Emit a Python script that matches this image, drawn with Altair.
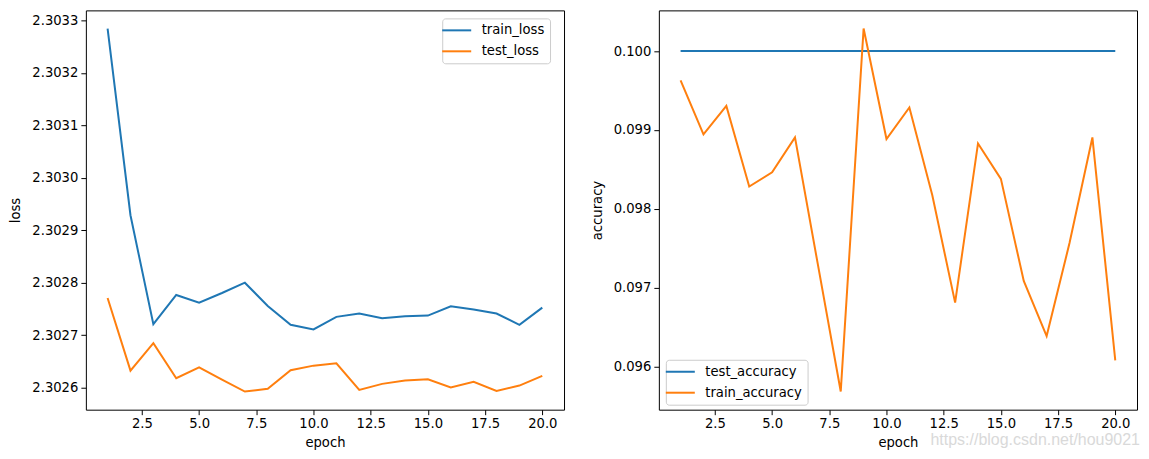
import altair as alt
import pandas as pd

epochs = list(range(1, 21))
train_loss = [2.3032848, 2.3029287, 2.3027209, 2.3027766, 2.3027620, 2.3027804, 2.3028000,
              2.3027557, 2.3027196, 2.3027108, 2.3027348, 2.3027411, 2.3027323, 2.3027361,
              2.3027373, 2.3027551, 2.3027487, 2.3027411, 2.3027196, 2.3027525]
test_loss = [2.3027709, 2.3026323, 2.3026848, 2.3026177, 2.3026386, 2.3026152, 2.3025924,
             2.3025975, 2.3026329, 2.3026418, 2.3026462, 2.3025956, 2.3026070, 2.3026133,
             2.3026158, 2.3026000, 2.3026108, 2.3025937, 2.3026038, 2.3026222]
test_accuracy = [0.100] * 20
train_accuracy = [0.099629, 0.098943, 0.099305, 0.098282, 0.098463, 0.098905, 0.097294,
                  0.095682, 0.100286, 0.098884, 0.099284, 0.098175, 0.096810, 0.098829,
                  0.098379, 0.097085, 0.096385, 0.097565, 0.098905, 0.096078]

x_ticks = [2.5, 5.0, 7.5, 10.0, 12.5, 15.0, 17.5, 20.0]
loss_ticks = [2.3026, 2.3027, 2.3028, 2.3029, 2.3030, 2.3031, 2.3032, 2.3033]
acc_ticks = [0.096, 0.097, 0.098, 0.099, 0.100]

loss_names = ["train_loss", "test_loss"]
acc_names = ["test_accuracy", "train_accuracy"]
colors = ["#1f77b4", "#ff7f0e"]
watermark = "https://blog.csdn.net/hou9021"

FONT = "DejaVu Sans"
FS = 13.2


def padded(values, frac=0.05):
    lo, hi = min(values), max(values)
    m = (hi - lo) * frac
    return [lo - m, hi + m]


x_dom = padded(epochs)

loss_df = pd.DataFrame({
    "epoch": epochs * 2,
    "value": train_loss + test_loss,
    "series": [loss_names[0]] * 20 + [loss_names[1]] * 20,
})
acc_df = pd.DataFrame({
    "epoch": epochs * 2,
    "value": test_accuracy + train_accuracy,
    "series": [acc_names[0]] * 20 + [acc_names[1]] * 20,
})

# a horizontal dash drawn as a custom symbol: +-2.42 units * sqrt(144)/2 = +-14.5 px
DASH = "M-2.42,0L2.42,0"


def legend(lx, ly):
    return alt.Legend(
        title=None, orient="none", legendX=lx, legendY=ly,
        symbolType=DASH, symbolSize=144, symbolStrokeWidth=2, symbolOffset=2.5,
        labelFont=FONT, labelFontSize=FS, labelColor="black", labelOffset=18,
        padding=5, fillColor="white", strokeColor="#cccccc", cornerRadius=3,
        rowPadding=7,
    )


def xenc():
    return alt.X("epoch:Q", scale=alt.Scale(domain=x_dom, nice=False, zero=False),
                 axis=alt.Axis(values=x_ticks, format=".1f", title="epoch", titlePadding=7))


left = alt.Chart(loss_df).mark_line(strokeWidth=2).encode(
    x=xenc(),
    y=alt.Y("value:Q", scale=alt.Scale(domain=padded(train_loss + test_loss), nice=False, zero=False),
            axis=alt.Axis(values=loss_ticks, format=".4f", title="loss", titlePadding=9)),
    color=alt.Color("series:N", scale=alt.Scale(domain=loss_names, range=colors),
                    sort=loss_names, legend=legend(357, 8)),
    order=alt.Order("epoch:Q"),
).properties(width=479, height=400)

acc_lines = alt.Chart(acc_df).mark_line(strokeWidth=2).encode(
    x=xenc(),
    y=alt.Y("value:Q", scale=alt.Scale(domain=padded(test_accuracy + train_accuracy), nice=False, zero=False),
            axis=alt.Axis(values=acc_ticks, format=".3f", title="accuracy", titlePadding=9)),
    color=alt.Color("series:N", scale=alt.Scale(domain=acc_names, range=colors),
                    sort=acc_names, legend=legend(7, 350)),
    order=alt.Order("epoch:Q"),
)

wm = alt.Chart(pd.DataFrame({"t": [watermark]})).mark_text(
    font="Liberation Sans", fontSize=16, color="#d9d9d9", align="right", baseline="middle"
).encode(text="t:N", x=alt.value(482), y=alt.value(430))

right = alt.layer(acc_lines, wm).properties(width=479, height=400)

chart = alt.hconcat(left, right, spacing=95, bounds="flush").resolve_scale(
    color="independent"
).resolve_legend(color="independent").properties(
    padding={"left": 0, "top": 1, "right": 0, "bottom": 0},
    background="white",
).configure_axis(
    grid=False, domain=False, tickColor="black", tickSize=5, tickWidth=1,
    labelColor="black", labelFont=FONT, labelFontSize=FS, labelPadding=3,
    titleColor="black", titleFont=FONT, titleFontSize=FS, titleFontWeight="normal",
    labelOverlap=False,
).configure_view(stroke="black", strokeWidth=1)

chart.save("out.html", embed_options={"renderer": "svg", "actions": False})
